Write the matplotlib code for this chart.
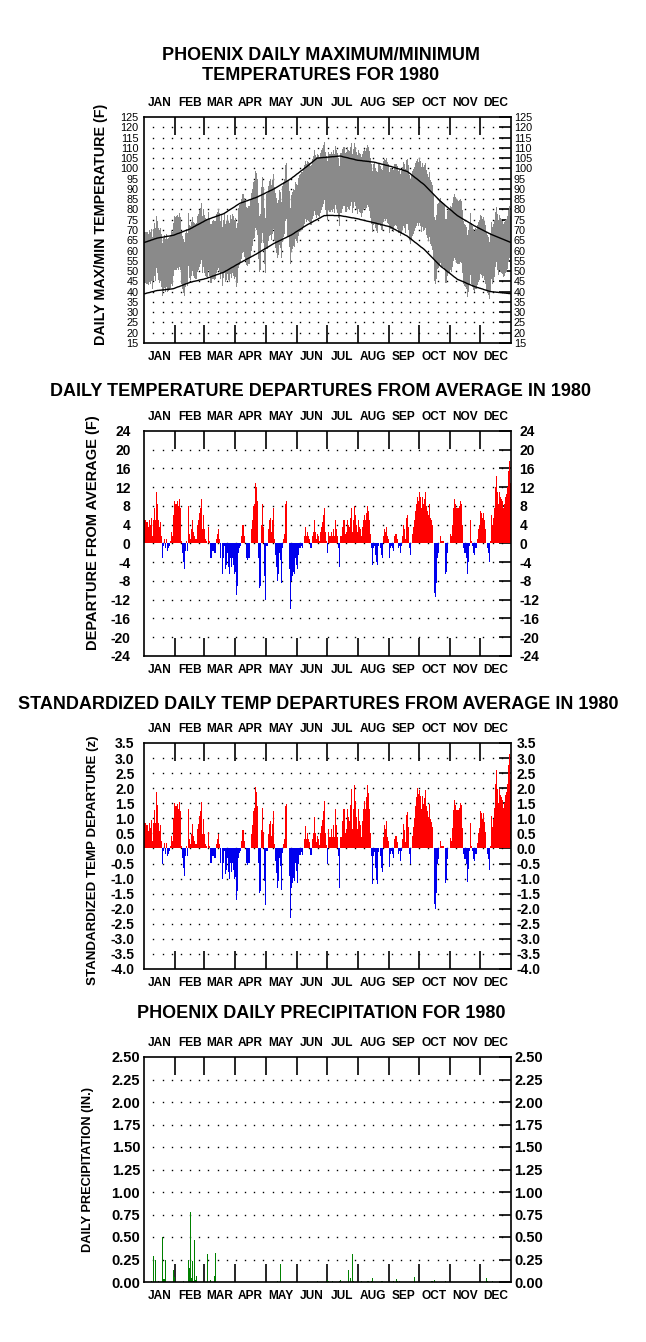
import numpy as np
import matplotlib
matplotlib.use('Agg')
import matplotlib.pyplot as plt

plt.rcParams['font.family'] = ['Liberation Sans', 'DejaVu Sans']
plt.rcParams['axes.unicode_minus'] = False

month_names = ['JAN', 'FEB', 'MAR', 'APR', 'MAY', 'JUN',
               'JUL', 'AUG', 'SEP', 'OCT', 'NOV', 'DEC']
month_days = [31, 29, 31, 30, 31, 30, 31, 31, 30, 31, 30, 31]

# daily departure of mean temperature from normal (F), one row per month
departure = [
    5, 5, 4.5, 4.5, 3.5, 5, 4, 5.5, 1.5, 5, 7.5, 5, 11, 8.5, 5, 3.5, 4.5, 1.5, -3, -0.5, 1, -1, 1, -1.5, -1, -0.5, 0.5, 2.5, 1.5, 6, 9,
    8.5, 8.5, 9, 8, 9.5, 7.5, 0.5, -2, -4, -5.5, -1.5, 0.5, -1.5, 8, 2, 1, 3, 5, 2.5, 1.5, 1, 1, 4, 5, 6.5, 7.5, 9.5, 3, 6,
    3, 1, 0.5, 0, 3.5, 0.5, -3, -3, -1.5, -1.5, -2, -2, 1, 2, 3, 1, -3, 0, -6.5, -3, -0.5, -5.5, -4.5, -2, -5, -6.5, -3, -5, -3, -4.5, -6.5,
    -6, -11, -9, -2, -1, -0.5, 1.5, 4, 4, 1.5, 0, -3, -3.5, -3, 0, 3, 5, 8, 8.5, 13, 12, 9, -3, -9.5, -9, 4, 8.5, 3.5, -7, -12,
    -0.5, -0.5, 3, 5, 5.5, 2.5, 5, 7.5, 1, -2.5, -5, -8, -6.5, -2, -3.5, -8.5, -1, 1, 2, 8.5, 9, 0, 0, -5.5, -14, -8, -7, -6, -6.5, -3, -4.5,
    -5.5, -2.5, -1, -1, -0.5, -1, 0, 1.5, 3.5, 1.5, 2.5, 1.5, 1, -1, -1, 1.5, 2.5, 5, 2.5, 1, 2, 1.5, 0.5, 2.5, 3.5, 4.5, 6, 7.5, 2.5, 0.5,
    -2, 2.5, 1.5, 1.5, 2.5, 1.5, 3, 1.5, 5, 3, 1.5, -1, -5, 1.5, 1.5, 3.5, 5, 5, 2, 2.5, 5, 4, 3.5, 5.5, 7.5, 2.5, 5, 8, 6, 4, 2.5,
    5, 3.5, 3, 1.5, 3.5, 5, 6, 5, 6.5, 8, 7, 5, 2, -1, -4.5, -1, -0.5, -2.5, -4, -4.5, -0.5, 0, -1, -2.5, -3, 1.5, 3, 2.5, 3.5, 1.5, 1,
    -3, -1, -0.5, -1, -1.5, 1.5, 2, 2, 1, -1, -0.5, -2, -0.5, 1.5, 4, 3, 1, 5.5, 6, 3.5, -1, -2.5, 0, 2, 3.5, 5, 7, 8.5, 10, 9,
    11, 10, 7.5, 10, 8.5, 9.5, 11, 8, 7, 6, 8.5, 5.5, 5, 4, 0, -10.5, -11.5, -8.5, -3, -2, 0, 1.5, 0.5, 0.5, 0.5, 0, -6.5, -6, -2, 0, 0,
    2, 1.5, 4, 7.5, 9.5, 8.5, 7.5, 7.5, 7.5, 8, 9, 8.5, 4, -1, -2, -2, -3, -6.5, -4, -0.5, 5, 0.5, -0.5, -2, -2.5, -1, -1, 1, 3, 4,
    7, 6.5, 5.5, 6.5, 5, 3, 0, -1, -2, -4, 0.5, 6, 4, 5.5, 7.5, 12, 14.5, 11, 8.5, 11, 10, 9.5, 9, 7.5, 8.5, 10, 10.5, 12, 15.5, 17.5, 13,
]

# daily normal maximum (F)
normal_max = [
    64.0, 64.2, 64.3, 64.5, 64.7, 64.8, 65.0, 65.2, 65.3, 65.5, 65.7, 65.8, 66.0, 66.1, 66.2, 66.3, 66.4, 66.4, 66.5, 66.6, 66.7, 66.8, 66.9, 67.0, 67.0, 67.1, 67.2, 67.3, 67.4, 67.5, 67.7,
    67.9, 68.1, 68.3, 68.4, 68.6, 68.8, 69.0, 69.2, 69.4, 69.6, 69.8, 69.9, 70.1, 70.3, 70.5, 70.8, 71.0, 71.3, 71.6, 71.8, 72.1, 72.4, 72.6, 72.9, 73.1, 73.4, 73.7, 73.9, 74.2,
    74.5, 74.7, 75.0, 75.2, 75.4, 75.5, 75.7, 75.9, 76.1, 76.2, 76.4, 76.6, 76.8, 76.9, 77.1, 77.3, 77.5, 77.6, 77.8, 78.0, 78.3, 78.6, 78.9, 79.3, 79.6, 79.9, 80.2, 80.5, 80.8, 81.1, 81.4,
    81.8, 82.1, 82.4, 82.7, 83.0, 83.2, 83.4, 83.5, 83.7, 83.9, 84.1, 84.2, 84.4, 84.6, 84.8, 84.9, 85.1, 85.3, 85.5, 85.6, 85.8, 86.0, 86.2, 86.5, 86.7, 86.9, 87.2, 87.4, 87.6, 87.9,
    88.1, 88.4, 88.6, 88.8, 89.1, 89.3, 89.5, 89.8, 90.0, 90.3, 90.6, 90.9, 91.2, 91.5, 91.8, 92.1, 92.4, 92.6, 92.9, 93.2, 93.5, 93.8, 94.1, 94.4, 94.7, 95.0, 95.4, 95.8, 96.1, 96.5, 96.9,
    97.3, 97.6, 98.0, 98.4, 98.8, 99.1, 99.5, 99.9, 100.3, 100.6, 101.0, 101.4, 101.8, 102.2, 102.6, 103.0, 103.4, 103.8, 104.2, 104.6, 105.0, 105.0, 105.1, 105.1, 105.2, 105.2, 105.3, 105.3, 105.3, 105.4,
    105.4, 105.5, 105.5, 105.6, 105.6, 105.7, 105.7, 105.7, 105.8, 105.8, 105.9, 105.9, 106.0, 106.0, 105.9, 105.8, 105.6, 105.5, 105.4, 105.3, 105.2, 105.1, 104.9, 104.8, 104.7, 104.6, 104.5, 104.4, 104.2, 104.1, 104.0,
    103.9, 103.9, 103.8, 103.8, 103.7, 103.6, 103.6, 103.5, 103.5, 103.4, 103.4, 103.3, 103.2, 103.2, 103.1, 103.1, 103.0, 102.9, 102.8, 102.6, 102.5, 102.4, 102.3, 102.1, 102.0, 101.9, 101.8, 101.6, 101.5, 101.4, 101.3,
    101.1, 101.0, 100.9, 100.7, 100.6, 100.4, 100.3, 100.1, 100.0, 99.8, 99.7, 99.5, 99.4, 99.2, 99.1, 98.9, 98.8, 98.6, 98.5, 98.1, 97.7, 97.4, 97.0, 96.6, 96.2, 95.8, 95.4, 95.1, 94.7, 94.3,
    93.9, 93.5, 93.1, 92.8, 92.4, 92.0, 91.5, 91.0, 90.5, 90.0, 89.5, 89.0, 88.5, 88.0, 87.5, 87.0, 86.5, 86.0, 85.5, 85.0, 84.5, 84.0, 83.6, 83.2, 82.8, 82.4, 81.9, 81.5, 81.1, 80.7, 80.3,
    79.9, 79.5, 79.1, 78.6, 78.2, 77.8, 77.4, 77.0, 76.7, 76.4, 76.1, 75.8, 75.5, 75.2, 74.9, 74.6, 74.4, 74.1, 73.8, 73.5, 73.2, 72.9, 72.6, 72.3, 72.0, 71.8, 71.5, 71.3, 71.0, 70.8,
    70.5, 70.3, 70.0, 69.8, 69.5, 69.3, 69.0, 68.8, 68.5, 68.3, 68.0, 67.8, 67.6, 67.4, 67.2, 67.0, 66.8, 66.6, 66.4, 66.2, 66.0, 65.8, 65.6, 65.4, 65.2, 65.0, 64.8, 64.6, 64.4, 64.2, 64.0,
]

# daily normal minimum (F)
normal_min = [
    39.0, 39.1, 39.3, 39.4, 39.5, 39.6, 39.8, 39.9, 40.0, 40.1, 40.3, 40.4, 40.5, 40.6, 40.6, 40.7, 40.7, 40.8, 40.8, 40.9, 40.9, 41.0, 41.1, 41.1, 41.2, 41.2, 41.3, 41.3, 41.4, 41.5, 41.7,
    41.9, 42.1, 42.3, 42.4, 42.6, 42.8, 43.0, 43.2, 43.4, 43.6, 43.8, 43.9, 44.1, 44.3, 44.5, 44.6, 44.7, 44.9, 45.0, 45.1, 45.2, 45.3, 45.4, 45.6, 45.7, 45.8, 45.9, 46.0, 46.1,
    46.3, 46.4, 46.5, 46.7, 46.9, 47.0, 47.2, 47.4, 47.6, 47.7, 47.9, 48.1, 48.3, 48.4, 48.6, 48.8, 49.0, 49.1, 49.3, 49.5, 49.8, 50.1, 50.3, 50.6, 50.9, 51.2, 51.5, 51.8, 52.0, 52.3, 52.6,
    52.9, 53.2, 53.4, 53.7, 54.0, 54.3, 54.5, 54.8, 55.1, 55.3, 55.6, 55.9, 56.1, 56.4, 56.6, 56.9, 57.2, 57.4, 57.7, 58.0, 58.2, 58.5, 58.8, 59.1, 59.4, 59.7, 60.0, 60.3, 60.6, 60.9,
    61.1, 61.4, 61.7, 62.0, 62.3, 62.6, 62.9, 63.2, 63.5, 63.7, 64.0, 64.2, 64.4, 64.7, 64.9, 65.1, 65.4, 65.6, 65.9, 66.1, 66.3, 66.6, 66.8, 67.0, 67.3, 67.5, 67.8, 68.1, 68.4, 68.8, 69.1,
    69.4, 69.7, 70.0, 70.3, 70.6, 70.9, 71.3, 71.6, 71.9, 72.2, 72.5, 72.8, 73.0, 73.3, 73.6, 73.8, 74.1, 74.4, 74.6, 74.9, 75.1, 75.4, 75.7, 75.9, 76.2, 76.5, 76.7, 77.0, 77.0, 77.0,
    77.1, 77.1, 77.1, 77.1, 77.1, 77.1, 77.1, 77.0, 77.0, 77.0, 77.0, 77.0, 77.0, 77.0, 76.9, 76.8, 76.7, 76.6, 76.6, 76.5, 76.4, 76.3, 76.2, 76.1, 76.0, 75.9, 75.9, 75.8, 75.7, 75.6, 75.5,
    75.4, 75.3, 75.1, 75.0, 74.9, 74.8, 74.7, 74.6, 74.4, 74.3, 74.2, 74.1, 74.0, 73.9, 73.7, 73.6, 73.5, 73.4, 73.3, 73.1, 73.0, 72.9, 72.8, 72.6, 72.5, 72.4, 72.3, 72.1, 72.0, 71.9, 71.8,
    71.6, 71.5, 71.2, 71.0, 70.7, 70.4, 70.2, 69.9, 69.6, 69.4, 69.1, 68.9, 68.6, 68.3, 68.1, 67.8, 67.5, 67.3, 67.0, 66.6, 66.2, 65.9, 65.5, 65.1, 64.7, 64.3, 63.9, 63.6, 63.2, 62.8,
    62.4, 62.0, 61.6, 61.3, 60.9, 60.5, 60.0, 59.5, 59.0, 58.5, 58.0, 57.5, 57.0, 56.5, 56.0, 55.5, 55.0, 54.5, 54.0, 53.5, 53.0, 52.5, 52.1, 51.7, 51.4, 51.0, 50.6, 50.2, 49.8, 49.4, 49.1,
    48.7, 48.3, 47.9, 47.5, 47.1, 46.8, 46.4, 46.0, 45.8, 45.6, 45.4, 45.2, 45.0, 44.8, 44.6, 44.4, 44.1, 43.9, 43.7, 43.5, 43.3, 43.1, 42.9, 42.7, 42.5, 42.3, 42.2, 42.0, 41.9, 41.7,
    41.6, 41.4, 41.3, 41.1, 40.9, 40.8, 40.6, 40.5, 40.3, 40.2, 40.0, 40.0, 39.9, 39.9, 39.8, 39.8, 39.7, 39.7, 39.6, 39.6, 39.5, 39.5, 39.4, 39.4, 39.3, 39.3, 39.2, 39.2, 39.1, 39.1, 39.0,
]

# standard deviation of daily mean temperature by month (F)
month_sd = [5.9, 6.1, 6.4, 6.4, 6.1, 4.8, 3.8, 3.8, 5.0, 5.7, 5.9, 5.6]

# days with measurable precipitation (day of year, 0 = Jan 1) and amount (in.)
precip_days = [7, 9, 11, 14, 18, 19, 20, 21, 29, 30, 39, 44, 45, 46, 47, 48, 49, 50, 51, 52,
               63, 66, 70, 71, 79, 82, 83, 86, 92, 93, 114, 120, 121, 126, 132, 135, 172,
               182, 183, 187, 194, 195, 203, 205, 207, 208, 213, 216, 222, 223, 226, 227,
               236, 237, 248, 251, 252, 254, 269, 286, 287, 289, 300, 341, 342, 347]
precip_inches = [0.01, 0.29, 0.24, 0.01, 0.50, 0.03, 0.03, 0.24, 0.13, 0.06, 0.01, 0.24, 0.16, 0.78, 0.04, 0.23, 0.01, 0.47, 0.02, 0.07,
                 0.31, 0.02, 0.07, 0.32, 0.06, 0.01, 0.01, 0.01, 0.13, 0.01, 0.01, 0.12, 0.16, 0.01, 0.01, 0.20, 0.01,
                 0.02, 0.01, 0.01, 0.01, 0.02, 0.13, 0.04, 0.31, 0.01, 0.01, 0.01, 0.01, 0.01, 0.01, 0.04,
                 0.01, 0.01, 0.01, 0.03, 0.01, 0.01, 0.06, 0.01, 0.01, 0.02, 0.01, 0.04, 0.01, 0.01]

dep = np.array(departure)
nmax = np.array(normal_max)
nmin = np.array(normal_min)
days = np.arange(len(dep)) + 0.5
tmax = nmax + dep
tmin = nmin + dep
zdep = dep / np.repeat(month_sd, month_days)

edges = np.cumsum([0] + month_days)
mids = edges[:-1] + np.array(month_days) / 2.0

W, H = 646, 1342
fig = plt.figure(figsize=(W / 100, H / 100), dpi=100)


def px_axes(top, bottom):
    return fig.add_axes([144.3 / W, 1 - bottom / H, 366.7 / W, (bottom - top) / H])


def setup(ax, ylo, yhi, step, fmt, size, weight, lpad, rpad):
    ax.set_xlim(0, 366)
    ax.set_ylim(ylo, yhi)
    ax.set_xticks(edges[1:-1])
    ax.set_xticklabels([])
    ax.set_xticks(mids, minor=True)
    ax.set_xticklabels(month_names, minor=True, fontsize=8.6, fontweight='bold')
    ax.tick_params(axis='x', which='major', direction='in', length=13, width=1.2,
                   top=True, bottom=True)
    ax.tick_params(axis='x', which='minor', length=0, top=True, bottom=True,
                   labeltop=True, labelbottom=True, pad=6)
    n = int(round((yhi - ylo) / step))
    yt = ylo + step * np.arange(n + 1)
    ax.set_yticks(yt)
    ax.set_yticklabels([fmt % v for v in yt], fontsize=size, fontweight=weight)
    ax.tick_params(axis='y', direction='in', length=9, width=1.2, left=False, right=True,
                   labelleft=True, labelright=True)
    for t in ax.yaxis.get_major_ticks():
        t.label1.set_transform(ax.get_yaxis_transform() +
                               matplotlib.transforms.ScaledTranslation(-lpad / 72, 0, fig.dpi_scale_trans))
        t.label2.set_transform(ax.get_yaxis_transform(which='tick2') +
                               matplotlib.transforms.ScaledTranslation(rpad / 72, 0, fig.dpi_scale_trans))
    # dotted grid
    gx = np.arange(1, 40) * 366 / 40.0
    gx2, gy2 = np.meshgrid(gx, yt[1:-1])
    ax.plot(gx2.ravel(), gy2.ravel(), linestyle='none', marker='s', markersize=1.0,
            markeredgewidth=0, color='black', zorder=0)
    for s in ax.spines.values():
        s.set_linewidth(1.2)


# panel 1: max/min temperatures
ax1 = px_axes(117, 343)
ax1.bar(days, tmax - tmin, bottom=tmin, width=1.0, color='#8a8a8a', linewidth=0, zorder=2)
ax1.plot(days, nmax, color='black', linewidth=1.0, zorder=3)
ax1.plot(days, nmin, color='black', linewidth=1.0, zorder=3)
setup(ax1, 15, 125, 5, '%d', 7.8, 'normal', 4, 2)

# panel 2: departures
ax2 = px_axes(431, 656)
ax2.bar(days, dep, width=1.0, color=np.where(dep >= 0, '#ff0000', '#0000ee'),
        linewidth=0, zorder=2)
setup(ax2, -24, 24, 4, '%d', 10, 'bold', 10, 6)

# panel 3: standardized departures
ax3 = px_axes(743, 969)
ax3.bar(days, zdep, width=1.0, color=np.where(zdep >= 0, '#ff0000', '#0000ee'),
        linewidth=0, zorder=2)
setup(ax3, -4.0, 3.5, 0.5, '%.1f', 10, 'bold', 7, 4)

# panel 4: precipitation
ax4 = px_axes(1057, 1282)
ax4.bar(np.array(precip_days) + 0.5, precip_inches, width=0.9, color='#008000',
        linewidth=0, zorder=2)
setup(ax4, 0, 2.5, 0.25, '%.2f', 10.5, 'bold', 3, 2.5)

# titles
tkw = dict(ha='center', va='center', fontsize=13, fontweight='bold')
fig.text(321 / W, 1 - 55 / H, 'PHOENIX DAILY MAXIMUM/MINIMUM', **tkw)
fig.text(321 / W, 1 - 75 / H, 'TEMPERATURES FOR 1980', **tkw)
fig.text(320 / W, 1 - 392 / H, 'DAILY TEMPERATURE DEPARTURES FROM AVERAGE IN 1980', **tkw)
fig.text(318 / W, 1 - 705 / H, 'STANDARDIZED DAILY TEMP DEPARTURES FROM AVERAGE IN 1980', **tkw)
fig.text(321 / W, 1 - 1014 / H, 'PHOENIX DAILY PRECIPITATION FOR 1980', **tkw)

# y-axis titles
ykw = dict(ha='center', va='center', rotation=90, fontweight='bold')
fig.text(101 / W, 1 - 224 / H, 'DAILY MAX/MIN TEMPERATURE (F)', fontsize=10.3, **ykw)
fig.text(93 / W, 1 - 533 / H, 'DEPARTURE FROM AVERAGE (F)', fontsize=10.5, **ykw)
fig.text(93 / W, 1 - 860 / H, 'STANDARDIZED TEMP DEPARTURE (z)', fontsize=9.6, **ykw)
fig.text(88 / W, 1 - 1170 / H, 'DAILY PRECIPITATION (IN.)', fontsize=9.2, **ykw)

fig.savefig('out.png', dpi=100, facecolor='white')
